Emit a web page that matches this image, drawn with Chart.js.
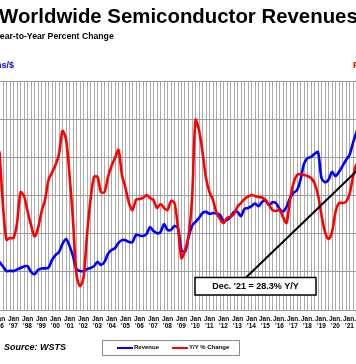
<!DOCTYPE html>
<html><head><meta charset="utf-8">
<script src="https://cdn.jsdelivr.net/npm/chart.js@4/dist/chart.umd.min.js"></script>
<style>
html,body{margin:0;padding:0;background:#fff;overflow:hidden;}
#wrap{position:relative;width:356px;height:364px;overflow:hidden;font-family:'Liberation Sans',Arial,sans-serif;}
#cv{position:absolute;left:-20px;top:0;}
.t{position:absolute;white-space:nowrap;}
#title{left:-1px;top:6px;font-size:20.4px;line-height:20px;font-weight:bold;color:#000;}
#sub{left:-5.5px;top:32px;font-size:8.7px;line-height:9px;font-weight:bold;color:#000;}
#ylab{left:-66px;width:80px;text-align:right;top:61px;font-size:9px;line-height:9px;font-weight:bold;color:#0000ff;}
#y1lab{left:353px;top:61px;font-size:9px;line-height:9px;font-weight:bold;color:#ff0000;}
#src{left:4px;top:342px;font-size:9px;line-height:10px;font-weight:bold;font-style:italic;color:#000;}
#leg{position:absolute;left:102px;top:340px;width:136px;height:14px;border:1px solid #8c8c8c;background:#fff;}
.sw{position:absolute;top:6px;height:2px;width:16px;}
.lt{position:absolute;top:3px;font-size:6px;line-height:7px;font-weight:bold;color:#000;white-space:nowrap;}
</style></head><body>
<div id="wrap">
<canvas id="cv" width="400" height="364"></canvas>
<div class="t" id="title">Worldwide Semiconductor Revenues</div>
<div class="t" id="sub">Year-to-Year Percent Change</div>
<div class="t" id="ylab">Billions/$</div>
<div class="t" id="y1lab">Percent</div>
<div class="t" id="src">Source: WSTS</div>
<div id="leg">
  <div class="sw" style="left:14px;background:#0000ff"></div><div class="lt" id="leg0" style="left:31px"></div>
  <div class="sw" style="left:69px;background:#ff0000"></div><div class="lt" id="leg1" style="left:86px"></div>
</div>
</div>
<script>
// ---- Data (quarterly readings: Jan, Apr, Jul, Oct of each year, plus Dec 2021) ----
const firstYear = 1996;
const lastYear = 2021;
const seriesNames = ['Revenue', 'Y/Y % Change'];

// Revenue, billions of US$
const revenue = [
  12.6, 11.4, 10.2, 10.3,   // 1996
  10.2, 10.6, 11.0, 11.4,   // 1997
  11.5, 10.0, 9.4, 10.5,    // 1998
  10.9, 10.9, 11.1, 13.1,   // 1999
  14.4, 15.2, 17.3, 18.6,   // 2000
  16.8, 14.1, 10.7, 10.2,   // 2001
  10.2, 10.7, 11.0, 11.5,   // 2002
  12.6, 11.8, 12.6, 14.7,   // 2003
  15.7, 16.2, 17.6, 18.3,   // 2004
  18.3, 17.8, 17.8, 19.7,   // 2005
  19.5, 19.4, 19.9, 21.7,   // 2006
  20.7, 20.1, 20.4, 22.5,   // 2007
  21.0, 21.0, 22.0, 21.5,   // 2008
  15.7, 15.2, 19.0, 22.0,   // 2009
  23.1, 24.1, 25.4, 25.7,   // 2010
  25.2, 25.4, 25.3, 24.9,   // 2011
  23.3, 23.6, 24.4, 25.7,   // 2012
  25.7, 24.6, 26.5, 26.7,   // 2013
  27.2, 27.9, 27.2, 28.3,   // 2014
  28.7, 27.5, 28.2, 28.0,   // 2015
  26.5, 25.8, 27.0, 29.3,   // 2016
  30.7, 31.4, 34.1, 38.3,   // 2017
  39.8, 40.1, 40.9, 41.4,   // 2018
  34.6, 33.5, 34.1, 36.2,   // 2019
  35.1, 36.2, 37.7, 39.3,   // 2020
  40.6, 43.8, 46.6, 49.3,   // 2021
  50.9                      // Dec 2021
];

// Year-to-year percent change
const yoy = [
  37, 4, -17, -16,          // 1996
  -16, -7, 12, 9.6,         // 1997
  0.5, -8, -15, -10,        // 1998
  0, 7.3, 19.5, 24,         // 1999
  28.6, 35.4, 49.4, 44.5,   // 2000
  22.5, -5, -38.6, -45.3,   // 2001
  -40.4, -14.1, 7.3, 21.3,  // 2002
  21.3, 12.1, 12.1, 21.3,   // 2003
  28, 32.9, 37.8, 22.5,     // 2004
  14.6, 5.4, 1.1, 7.3,      // 2005
  7.9, 8.5, 10.3, 8.5,      // 2006
  7.3, 2.4, 4.8, 2.4,       // 2007
  1.1, 6.6, 5.4, -9.9,      // 2008
  -28.2, -23.3, -14.8, 7.3, // 2009
  56.2, 50, 36.6, 20.7,     // 2010
  12.1, 7.3, -0.6, -4.4,    // 2011
  -6.9, -3.8, -3, -1.3,     // 2012
  3.2, 5.4, 7.9, 9.3,       // 2013
  10.3, 9.7, 9.1, 8.8,      // 2014
  7.3, 4.2, 1.2, 0.5,       // 2015
  1.2, -3.1, -6.8, 7.3,     // 2016
  17.6, 22.5, 23.1, 22.5,   // 2017
  21.9, 20.7, 17.6, 10.3,   // 2018
  -1.9, -12.3, -16.6, -12.3,// 2019
  -0.1, 5.4, 5.4, 6.2,      // 2020
  10.9, 21.3, 29, 24,       // 2021
  28.3                      // Dec 2021
];

// Period positions (fractional years): quarter starts, then Dec 2021
const periods = [];
for (let yr = firstYear; yr <= lastYear; yr++) {
  for (const m of [1, 4, 7, 10]) periods.push(yr + (m - 1) / 12);
}
periods.push(lastYear + 11 / 12);

const noteLabel = "Dec. '21";

// ---- Chart ----
document.getElementById('leg0').textContent = seriesNames[0];
document.getElementById('leg1').textContent = seriesNames[1];

const OFF = 20; // canvas is shifted 20px left of the view
const FONT = "'Liberation Sans', Arial, sans-serif";

const notePlugin = {
  id: 'decNote',
  afterDatasetsDraw(chart) {
    const ctx = chart.ctx;
    const last = periods.length - 1;
    const px = chart.scales.x.getPixelForValue(periods[last]);
    const py = chart.scales.y1.getPixelForValue(yoy[last]);
    const l = 195 + OFF, r = 316 + OFF, t = 277.5, b = 295;
    ctx.save();
    ctx.strokeStyle = '#000';
    ctx.lineWidth = 2;
    ctx.beginPath();
    ctx.moveTo(246 + OFF, t);
    ctx.lineTo(px, py);
    ctx.stroke();
    ctx.fillStyle = '#fff';
    ctx.fillRect(l, t, r - l, b - t);
    ctx.lineWidth = 1.5;
    ctx.strokeRect(l, t, r - l, b - t);
    ctx.fillStyle = '#000';
    ctx.font = 'bold 9px ' + FONT;
    ctx.textAlign = 'center';
    ctx.textBaseline = 'middle';
    ctx.fillText(noteLabel + ' = ' + yoy[last] + '% Y/Y', (l + r) / 2, (t + b) / 2 + 0.5);
    ctx.restore();
  }
};

new Chart(document.getElementById('cv'), {
  type: 'line',
  data: {
    datasets: [
      {
        label: seriesNames[1],
        data: periods.map((p, i) => ({x: p, y: yoy[i]})),
        yAxisID: 'y1',
        borderColor: '#ff0000',
        borderWidth: 2.6,
        pointRadius: 0,
        tension: 0.3,
        order: 0
      },
      {
        label: seriesNames[0],
        data: periods.map((p, i) => ({x: p, y: revenue[i]})),
        yAxisID: 'y',
        borderColor: '#0000ff',
        borderWidth: 2.6,
        pointRadius: 0,
        tension: 0.3,
        order: 1
      }
    ]
  },
  options: {
    responsive: false,
    animation: false,
    layout: {padding: {left: 16, right: 16.5, top: 81, bottom: 0}},
    plugins: {legend: {display: false}, tooltip: {enabled: false}, title: {display: false}},
    scales: {
      x: {
        type: 'linear',
        min: firstYear - 0.25,
        max: lastYear + 1,
        border: {display: false},
        grid: {color: '#ababab', lineWidth: 1, drawTicks: false},
        ticks: {
          stepSize: 0.25,
          autoSkip: false,
          maxRotation: 0,
          minRotation: 0,
          padding: 5,
          color: '#000',
          font: {family: FONT, size: 6.5, weight: 'bold', lineHeight: 1.2},
          callback: (v) => {
            const yr = Math.round(v);
            if (Math.abs(v - yr) > 1e-6 || yr < firstYear || yr > lastYear) return '';
            return [yr >= 2015 ? 'Jan.' : 'Jan', "'" + String(yr).slice(2)];
          }
        },
        afterFit: (s) => { s.height = 54; }
      },
      y: {
        position: 'left',
        min: 0,
        max: 60,
        border: {display: false},
        grid: {color: '#9a9a9a', lineWidth: 1, drawTicks: false},
        ticks: {display: false, stepSize: 10},
        afterFit: (s) => { s.width = 0; }
      },
      y1: {
        position: 'right',
        min: -60,
        max: 80,
        border: {display: false},
        grid: {display: false, drawTicks: false},
        ticks: {display: false, stepSize: 20},
        afterFit: (s) => { s.width = 0; }
      }
    }
  },
  plugins: [notePlugin]
});
</script>
</body></html>
